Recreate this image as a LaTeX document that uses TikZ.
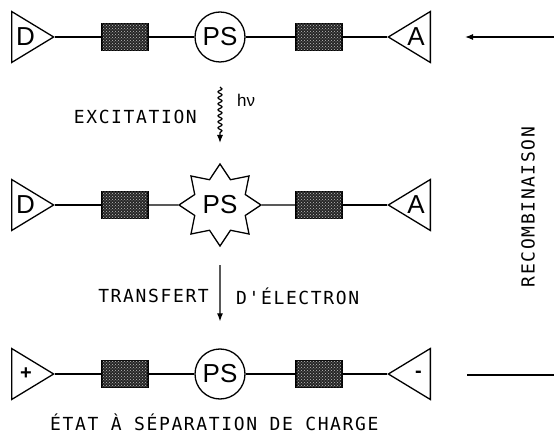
\documentclass[tikz,border=0pt]{standalone}
\usepackage{fontspec}
\setmainfont{Liberation Sans}
\newfontfamily\typefont[LetterSpace=9]{DejaVu Sans Mono}
\usetikzlibrary{shapes,arrows.meta,positioning,decorations.pathmorphing,patterns}

\begin{document}
\begin{tikzpicture}[
    x=1pt, y=-1pt,
    donor/.style={isosceles triangle, isosceles triangle stretches, draw, line width=1.3pt, minimum width=51pt, minimum height=42pt, inner sep=0pt},
    acceptor/.style={donor, shape border rotate=180},
    link/.style={rectangle, draw, line width=1.2pt, fill=black!85, postaction={pattern=crosshatch dots, pattern color=white!75!black}, minimum width=46pt, minimum height=27pt, inner sep=0pt},
    sens/.style={circle, draw, line width=1.3pt, minimum size=50pt, inner sep=0pt, font=\fontsize{26}{26}\selectfont},
    excited/.style={star, star points=8, star point ratio=1.5, draw, line width=1.3pt, minimum size=82pt, inner sep=0pt, font=\fontsize{26}{26}\selectfont},
    symb/.style={inner sep=0pt, font=\fontsize{26}{26}\selectfont},
    charge/.style={inner sep=0pt, font=\fontsize{20}{20}\selectfont\bfseries},
    caption/.style={inner sep=0pt, font=\typefont\fontsize{18}{18}\selectfont},
    bond/.style={line width=1.3pt},
    arrow/.style={-{Latex[length=8pt,width=6pt]}, line width=1.2pt}
]
    \useasboundingbox (0,0) rectangle (554,438);

    % ground state
    \node[donor, anchor=lower side] (don1) at (11,37) {};
    \node[link] (lnka1) at (125,37) {};
    \node[sens] (ps1) at (220,37) {PS};
    \node[link] (lnkb1) at (319,37) {};
    \node[acceptor, anchor=lower side] (acc1) at (431,37) {};
    \node[symb, anchor=west] (dl1) at ([xshift=5pt]don1.lower side) {D};
    \node[symb, anchor=east] (al1) at ([xshift=-6pt]acc1.lower side) {A};

    % excited state
    \node[donor, anchor=lower side] (don2) at (11,205) {};
    \node[link] (lnka2) at (125,205) {};
    \node[excited] (ps2) at (220,205) {PS};
    \node[link] (lnkb2) at (319,205) {};
    \node[acceptor, anchor=lower side] (acc2) at (431,205) {};
    \node[symb, anchor=west] (dl2) at ([xshift=5pt]don2.lower side) {D};
    \node[symb, anchor=east] (al2) at ([xshift=-6pt]acc2.lower side) {A};

    % charge separated state
    \node[donor, anchor=lower side] (don3) at (11,374) {};
    \node[link] (lnka3) at (125,374) {};
    \node[sens] (ps3) at (220,374) {PS};
    \node[link] (lnkb3) at (319,374) {};
    \node[acceptor, anchor=lower side] (acc3) at (431,374) {};
    \node[charge, anchor=west] (dl3) at ([xshift=9pt]don3.lower side) {+};
    \node[charge, anchor=east] (al3) at ([xshift=-9pt]acc3.lower side) {-};

    \foreach \r in {1,2,3} {
        \draw[bond] (don\r.apex) -- (lnka\r);
        \draw[bond] (lnka\r) -- (ps\r);
        \draw[bond] (ps\r) -- (lnkb\r);
        \draw[bond] (lnkb\r) -- (acc\r.apex);
    }

    % labels
    \node[caption, anchor=east] (exc) at (197,117) {EXCITATION};
    \node[inner sep=0pt, anchor=west, font=\fontsize{17}{17}\selectfont] (hv) at (237,100) {hν};
    \node[caption, anchor=east] (trf) at (209,296) {TRANSFERT};
    \node[caption, anchor=west] (elec) at (236,296) {D'ÉLECTRON};
    \node[caption, anchor=west] (state) at (50,422) {ÉTAT À SÉPARATION DE CHARGE};
    \node[caption, rotate=90] (rec) at (528,207) {RECOMBINAISON};

    \coordinate (hvtop) at (220,87);
    \coordinate (hvend) at (220,143);
    \draw[arrow, decorate, decoration={snake, amplitude=2pt, segment length=6pt, post length=8pt}] (hvtop) -- (hvend);
    \draw[arrow, shorten <=18pt, shorten >=27pt] (ps2.south) -- (ps3.north);

    % recombination
    \coordinate (rec1) at (554,37);
    \coordinate (rec1end) at (465,37);
    \coordinate (rec2) at (467,375);
    \coordinate (rec2end) at (554,375);
    \draw[arrow, line width=1.2pt] (rec1) -- (rec1end);
    \draw[line width=1.2pt] (rec2) -- (rec2end);
\end{tikzpicture}
\end{document}
